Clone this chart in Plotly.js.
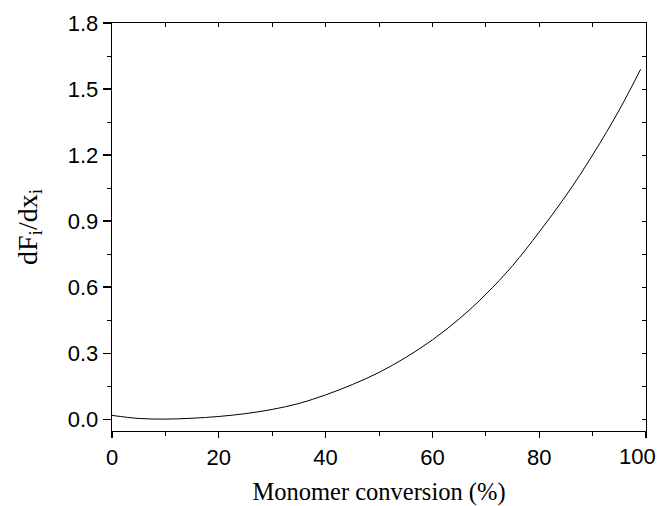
<!DOCTYPE html>
<html>
<head>
<meta charset="utf-8">
<script src="https://cdn.plot.ly/plotly-3.0.1.min.js"></script>
<style>html,body{margin:0;padding:0;background:#fff;}#chart{width:658px;height:506px;}</style>
</head>
<body>
<div id="chart"></div>
<script>
var conversion = [0, 5, 10, 15, 20, 25, 30, 35, 40, 45, 50, 55, 60, 65, 70, 75, 80, 85, 90, 95, 99];
var dFdx = [0.017, 0.003, 0.0, 0.004, 0.012, 0.025, 0.044, 0.071, 0.110, 0.157, 0.212, 0.280, 0.360, 0.455, 0.567, 0.697, 0.850, 1.015, 1.200, 1.405, 1.590];
var xTickVals = [0, 20, 40, 60, 80, 100];
var xTickText = ["0", "20", "40", "60", "80", "100"];
var yTickVals = [0.0, 0.3, 0.6, 0.9, 1.2, 1.5, 1.8];
var yTickText = ["0.0", "0.3", "0.6", "0.9", "1.2", "1.5", "1.8"];

var tickFont = {family: "Liberation Sans, Arial, sans-serif", size: 22, color: "#000"};
var titleFont = {family: "Liberation Serif, Times New Roman, serif", size: 24.5, color: "#000"};

var trace = {
  x: conversion, y: dFdx, type: "scatter", mode: "lines",
  line: {color: "#000", width: 1, shape: "spline", smoothing: 1},
  hoverinfo: "none", showlegend: false
};

// last x tick label is pulled left so it stays inside the page (as in the reference)
var lastIdx = xTickVals.length - 1;
var bottomText = xTickText.map(function (t, i) { return i === lastIdx ? "" : t; });

var layout = {
  width: 658, height: 506,
  margin: {l: 112, r: 12, t: 23, b: 75},
  paper_bgcolor: "#fff", plot_bgcolor: "#fff",
  xaxis: {
    range: [0, 100], showgrid: false, zeroline: false,
    showline: true, linecolor: "#000", linewidth: 1.3,
    ticks: "outside", ticklen: 6, tickwidth: 1.2, tickcolor: "#000",
    tickvals: xTickVals, ticktext: bottomText,
    tickfont: tickFont,
    minor: {dtick: 10, ticks: "outside", ticklen: 4, tickwidth: 1, tickcolor: "#000", showgrid: false},
    title: {text: "Monomer conversion (%)", font: titleFont, standoff: 19}
  },
  yaxis: {
    range: [-0.054, 1.8], showgrid: false, zeroline: false,
    showline: true, linecolor: "#000", linewidth: 1.3,
    ticks: "outside", ticklen: 8, tickwidth: 1.2, tickcolor: "#000",
    tickvals: yTickVals, ticktext: yTickText,
    tickfont: tickFont, ticklabeloverflow: "allow",
    minor: {dtick: 0.15, tick0: 0, ticks: "outside", ticklen: 4, tickwidth: 1, tickcolor: "#000", showgrid: false},
    title: {text: "dF<sub>i</sub>/dx<sub>i</sub>", font: {family: "Liberation Serif, Times New Roman, serif", size: 28, color: "#000"}, standoff: 22}
  },
  xaxis2: {
    overlaying: "x", side: "top", anchor: "y", range: [0, 100],
    showgrid: false, zeroline: false, showline: true, linecolor: "#000", linewidth: 1.3,
    ticks: "inside", ticklen: 4, tickwidth: 1, tickcolor: "#000", dtick: 10, tick0: 0,
    showticklabels: false
  },
  yaxis2: {
    overlaying: "y", side: "right", anchor: "x", range: [-0.054, 1.8],
    showgrid: false, zeroline: false, showline: true, linecolor: "#000", linewidth: 1.3,
    ticks: "inside", ticklen: 4, tickwidth: 1, tickcolor: "#000", dtick: 0.15, tick0: 0,
    showticklabels: false
  },
  annotations: [{
    x: xTickVals[lastIdx], xref: "x", y: 0, yref: "paper",
    text: xTickText[lastIdx], showarrow: false,
    xanchor: "right", yanchor: "middle", xshift: 12, yshift: -25,
    font: tickFont
  }]
};

var trace2 = {x: [0], y: [0], xaxis: "x2", yaxis: "y2", mode: "markers", marker: {opacity: 0}, hoverinfo: "none", showlegend: false};

Plotly.newPlot("chart", [trace, trace2], layout, {displayModeBar: false, staticPlot: true});
</script>
</body>
</html>
